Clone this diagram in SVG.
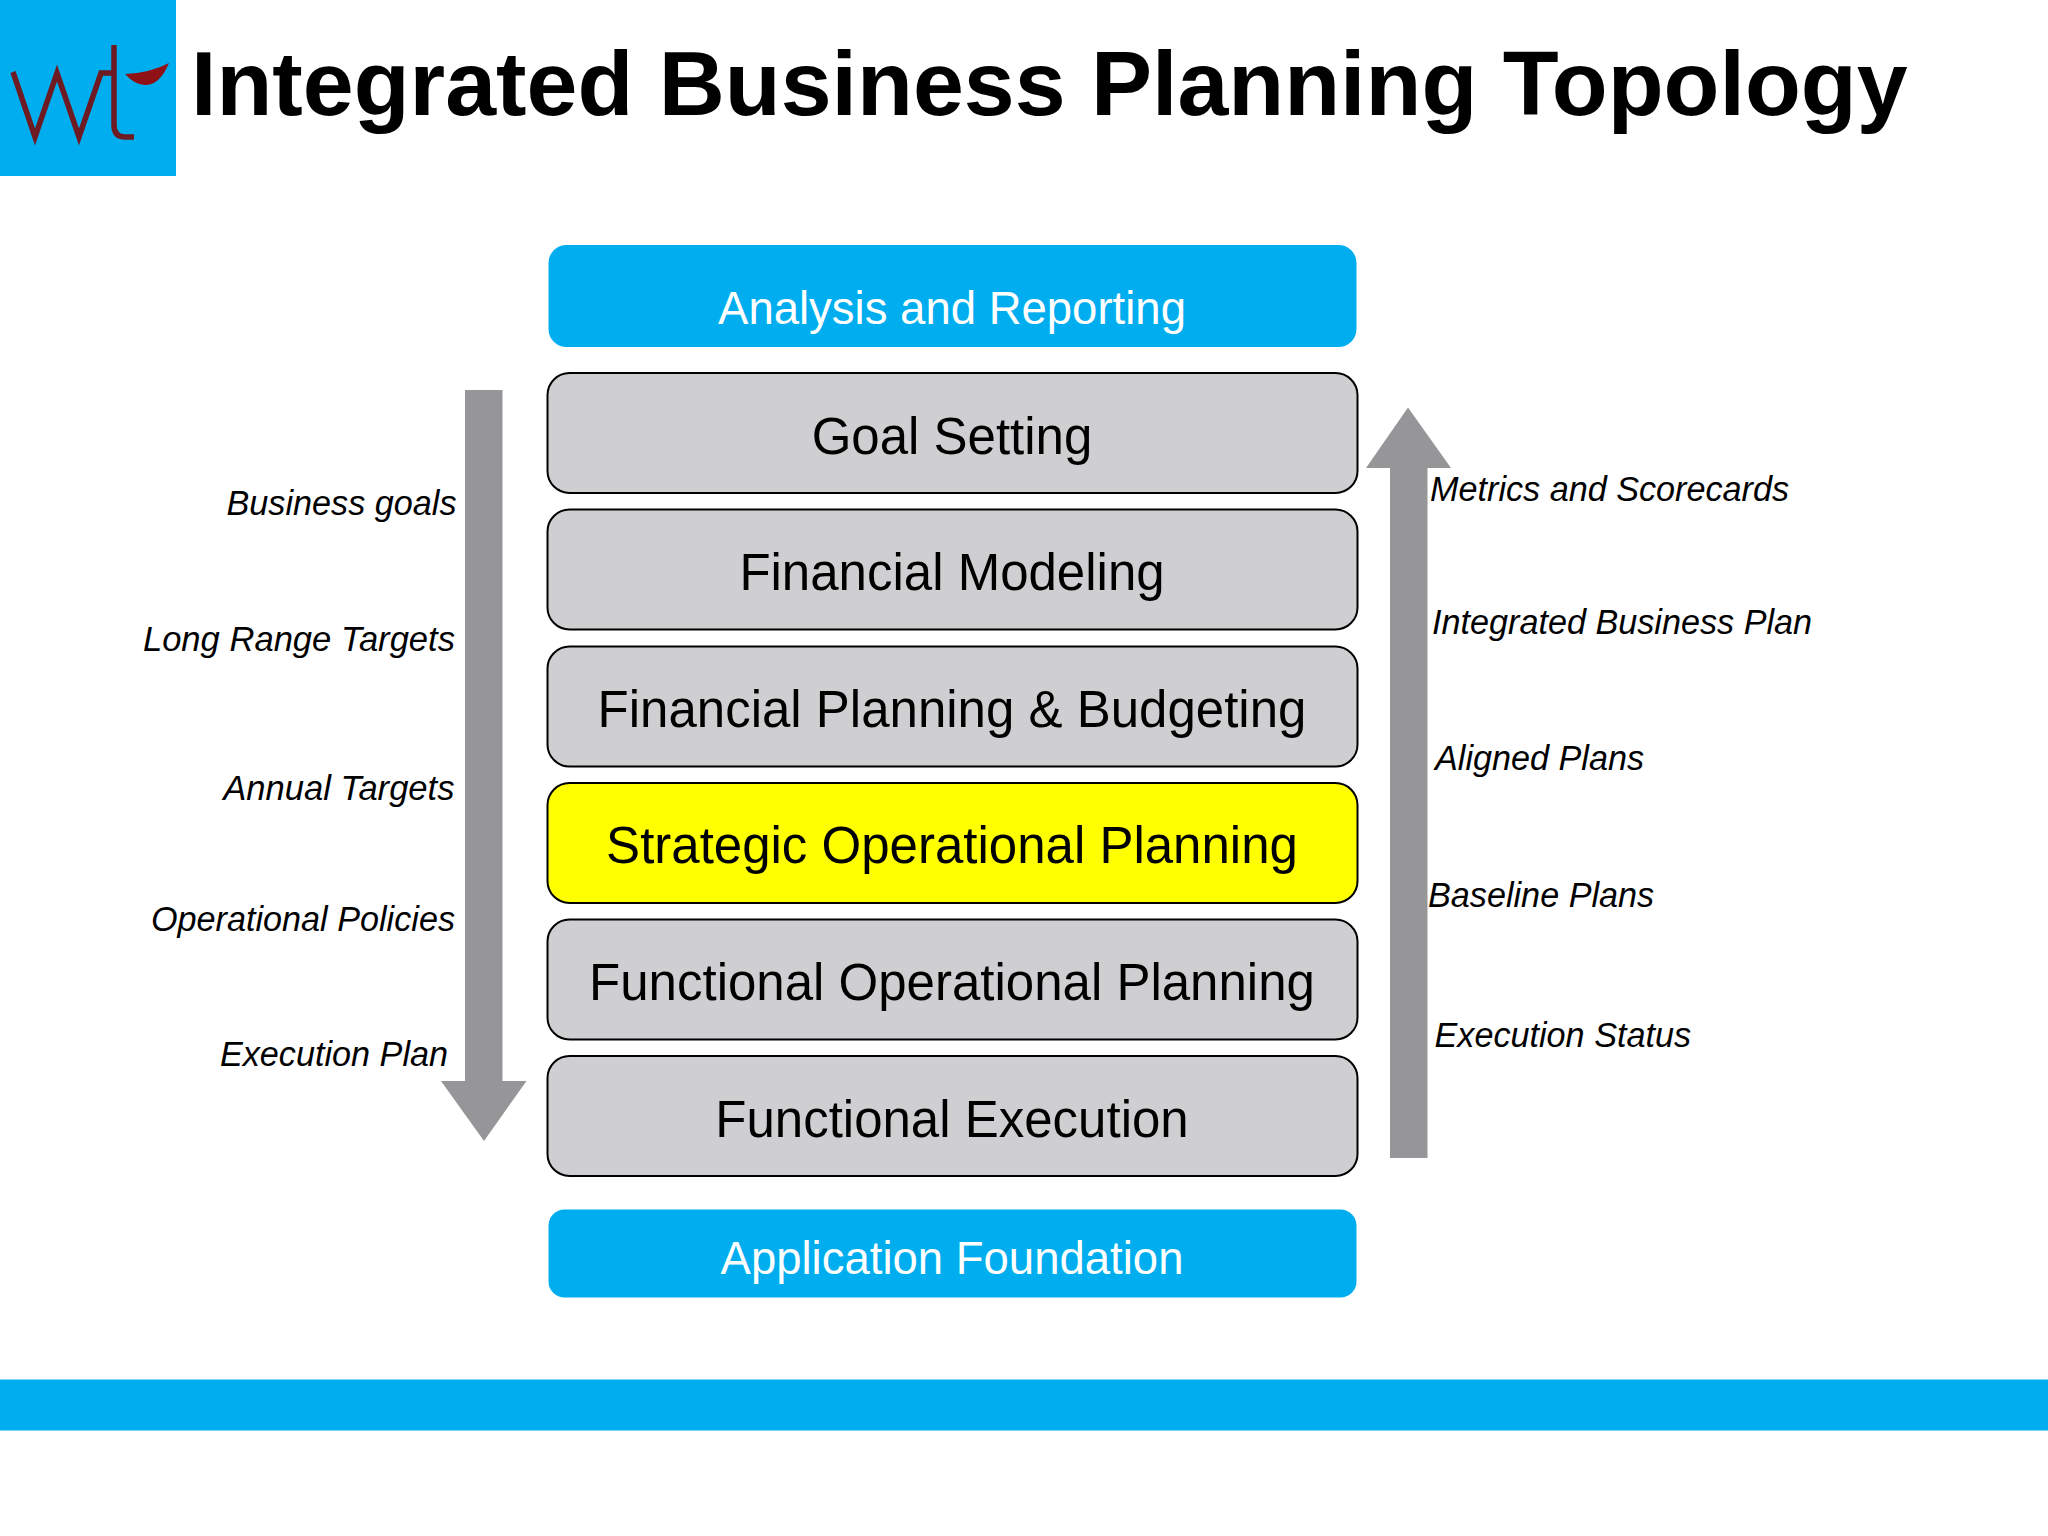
<svg xmlns="http://www.w3.org/2000/svg" width="2048" height="1536" viewBox="0 0 2048 1536">
<style>
text{font-family:"Liberation Sans",Arial,sans-serif}
.n{font-size:51px;fill:#000;text-anchor:middle}
.b{font-size:45.5px;fill:#fff;text-anchor:middle}
.l{font-size:34.2px;font-style:italic;fill:#000}
.w{font-size:34.6px}
.r{text-anchor:end}
.g{fill:#cfced1;stroke:#000;stroke-width:2}
.c{fill:#00aeef}
.a{fill:#969598}
</style>
<rect width="2048" height="1536" fill="#fff"/>
<g id="logo">
<rect class="c" x="0" y="0" width="176" height="176"/>
<path d="M13 72L35 137L57 73L79 137L101 73H114M114 45V125Q114 137 125 137H134" fill="none" stroke="#6e1a22" stroke-width="5.500"/>
<path d="M125 74Q150 73 169 63Q160 85 145 85Q135 85 125 74Z" fill="#8f1116"/>
</g>
<text id="title" x="191" y="115" font-size="91.5" font-weight="bold" fill="#000">Integrated Business Planning Topology</text>
<g id="analysis"><rect class="c" x="548.500" y="245" width="808" height="102" rx="18"/><text class="b" x="952" y="324">Analysis and Reporting</text></g>
<g id="goal"><rect class="g" x="547.500" y="373" width="810" height="120" rx="22"/><text class="n" x="952" y="454">Goal Setting</text></g>
<g id="modeling"><rect class="g" x="547.500" y="509.500" width="810" height="120" rx="22"/><text class="n" x="952" y="590">Financial Modeling</text></g>
<g id="budgeting"><rect class="g" x="547.500" y="646.500" width="810" height="120" rx="22"/><text class="n" x="952" y="727">Financial Planning &amp; Budgeting</text></g>
<g id="strategic"><rect x="547.500" y="783" width="810" height="120" rx="22" fill="#ffff00" stroke="#000" stroke-width="2"/><text class="n" x="952" y="863">Strategic Operational Planning</text></g>
<g id="functional"><rect class="g" x="547.500" y="919.500" width="810" height="120" rx="22"/><text class="n" x="952" y="1000">Functional Operational Planning</text></g>
<g id="execution"><rect class="g" x="547.500" y="1056" width="810" height="120" rx="22"/><text class="n" x="952" y="1137">Functional Execution</text></g>
<g id="foundation"><rect class="c" x="548.500" y="1209.500" width="808" height="88" rx="16"/><text class="b" x="952" y="1274">Application Foundation</text></g>
<g id="connectors">
<path class="a" d="M465 390H502.500V1081H526.500L484 1141L441 1081H465Z"/>
<path class="a" d="M1390 1158V468H1366L1408 407.500L1451 468H1427.500V1158Z"/>
</g>
<g id="left-labels">
<text class="l r" x="456.500" y="515">Business goals</text>
<text class="l r w" x="455" y="651">Long Range Targets</text>
<text class="l r w" x="454.500" y="800">Annual Targets</text>
<text class="l r" x="455" y="930.500">Operational Policies</text>
<text class="l r" x="448" y="1066">Execution Plan</text>
</g>
<g id="right-labels">
<text class="l" x="1430" y="500.500">Metrics and Scorecards</text>
<text class="l" x="1432" y="634">Integrated Business Plan</text>
<text class="l" x="1435" y="770">Aligned Plans</text>
<text class="l" x="1428" y="907">Baseline Plans</text>
<text class="l" x="1434.500" y="1046.500">Execution Status</text>
</g>
<rect id="band" class="c" x="0" y="1379.500" width="2048" height="51"/>
</svg>
